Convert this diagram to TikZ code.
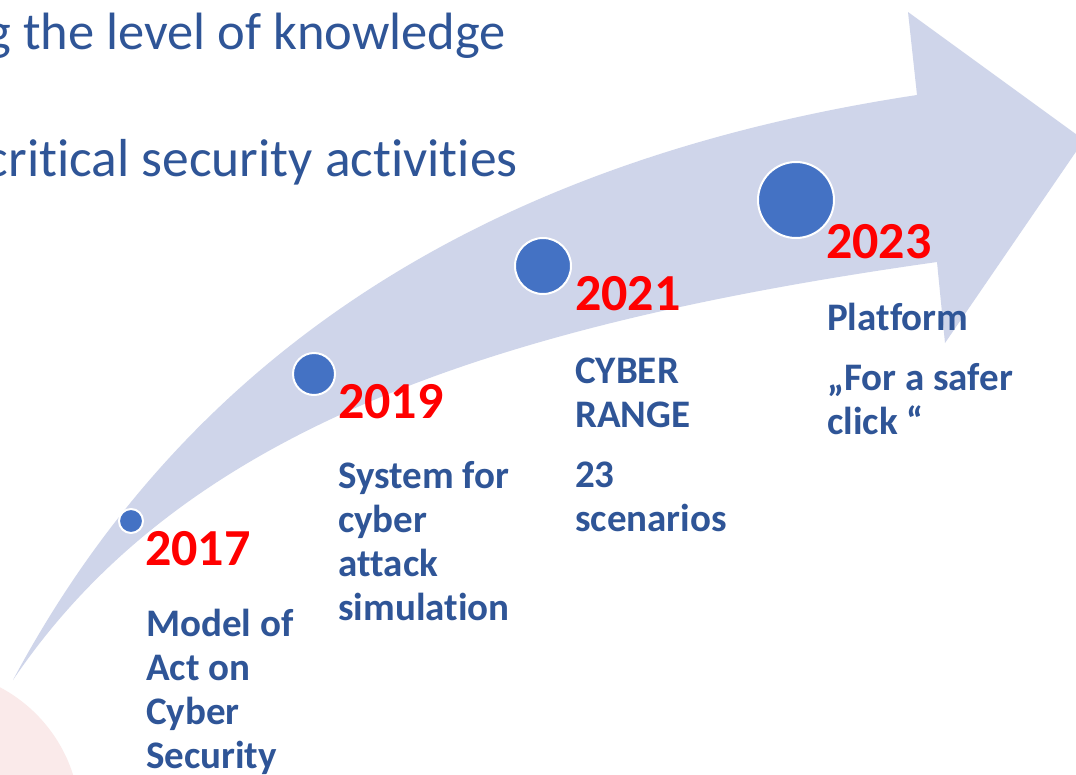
\documentclass[tikz,border=0pt]{standalone}
\usepackage{fontspec}
\setmainfont{Carlito}[RawFeature={-liga;-clig;-dlig;-calt}]
\definecolor{arrowfill}{HTML}{CFD5EA}
\definecolor{dotblue}{HTML}{4472C4}
\definecolor{lblblue}{HTML}{2F5597}
\definecolor{yearred}{HTML}{FF0000}
\definecolor{pinkbg}{RGB}{250,234,234}
\newcommand\nti{t\kern0pt i}
\newcommand\ntt{t\kern0pt t}
\newcommand\blk[1]{\parbox[t]{240pt}{\raggedright\fontsize{39}{44}\selectfont\bfseries #1}}
\tikzset{
  dot/.style={circle, fill=dotblue, draw=white, line width=2pt, inner sep=0pt},
  year/.style={anchor=base west, inner sep=0pt, text=yearred, font=\fontsize{52}{60}\selectfont\bfseries},
  lbl/.style={anchor=base west, inner sep=0pt, text=lblblue},
  toptext/.style={anchor=base east, inner sep=0pt, text=lblblue, font=\fontsize{53.5}{60}\selectfont}
}
\begin{document}
\begin{tikzpicture}[x=1pt,y=-1pt]
\useasboundingbox (0,0) rectangle (1076,774);
\clip (0,0) rectangle (1076,774);
\fill[white] (0,0) rectangle (1076,774);
% faint pink background shape
\fill[pinkbg] (-70,820) circle (150);
% curved arrow
\fill[arrowfill] (13,680) .. controls (201,328) and (521,155) .. (917,95)
  -- (908,12) -- (1084,140) -- (945,343) -- (937,262)
  .. controls (491,325) and (181,431) .. (13,680) -- cycle;
% top texts
\node[toptext, font=\fontsize{52.5}{60}\selectfont] (t1) at (506,49) {g the level of knowledge};
\node[toptext] (t2) at (518,176) {cri\nti{}cal security ac\nti{}vi\nti{}es};
% dots
\node[dot, minimum size=24pt] (d1) at (131,521) {};
\node[dot, minimum size=42pt] (d2) at (314,374) {};
\node[dot, minimum size=56pt] (d3) at (543,266) {};
\node[dot, minimum size=76pt] (d4) at (796,200) {};
% years
\node[year] (y1) at (145,565) {2017};
\node[year] (y2) at (338,418) {2019};
\node[year] (y3) at (575,310) {2021};
\node[year] (y4) at (826,258) {2023};
% labels
\node[lbl] (l1) at (146,636) {\blk{Model of\\Act on\\Cyber\\Security}};
\node[lbl] (l2) at (338,488) {\blk{System for\\cyber\\a\ntt{}ack\\simula\nti{}on}};
\node[lbl] (l3a) at (575,383) {\blk{CYBER\\RANGE}};
\node[lbl] (l3b) at (575,487) {\blk{23\\scenarios}};
\node[lbl] (l4a) at (827,330) {\blk{Platform}};
\node[lbl] (l4b) at (827,390) {\blk{„For a safer\\click “}};
\end{tikzpicture}
\end{document}
